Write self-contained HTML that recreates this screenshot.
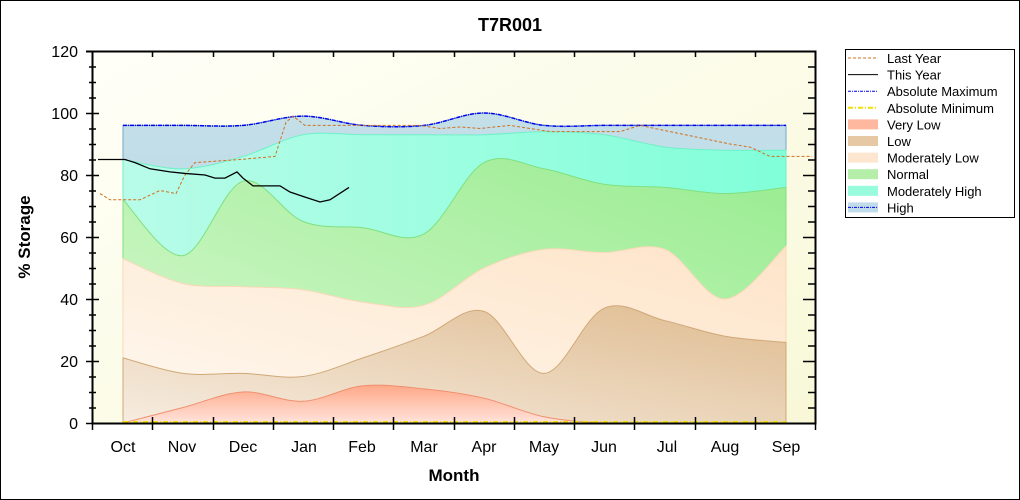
<!DOCTYPE html>
<html><head><meta charset="utf-8"><style>
body{margin:0;background:#fff}
svg{display:block;font-family:"Liberation Sans",Arial,sans-serif}
</style></head><body>
<svg id="s" width="1020" height="500" viewBox="0 0 1020 500" xmlns="http://www.w3.org/2000/svg">
<defs>
<linearGradient id="bg" x1="0" y1="0" x2="1" y2="1"><stop offset="0" stop-color="#fffff8"/><stop offset="1" stop-color="#f8f8d8"/></linearGradient>
<linearGradient id="gH" x1="0" y1="0" x2="0" y2="1"><stop offset="0" stop-color="#c4dfe8"/><stop offset="1" stop-color="#b0d8e6"/></linearGradient>
<linearGradient id="gMH" x1="0" y1="0" x2="1" y2="0"><stop offset="0" stop-color="#b8fce8"/><stop offset="1" stop-color="#80ffd8"/></linearGradient>
<linearGradient id="gN" x1="0" y1="1" x2="1" y2="0"><stop offset="0" stop-color="#d8f8d0"/><stop offset="1" stop-color="#98ec90"/></linearGradient>
<linearGradient id="gML" x1="0" y1="1" x2="1" y2="0"><stop offset="0" stop-color="#fff8f0"/><stop offset="1" stop-color="#fde4c8"/></linearGradient>
<linearGradient id="gL" x1="0" y1="1" x2="1" y2="0"><stop offset="0" stop-color="#f6ece0"/><stop offset="1" stop-color="#dfbc90"/></linearGradient>
<linearGradient id="gVL" x1="0" y1="1" x2="0" y2="0"><stop offset="0" stop-color="#ffe4dc"/><stop offset="1" stop-color="#ffa888"/></linearGradient>
</defs>
<rect x="0.5" y="0.5" width="1019" height="499" fill="#fff" stroke="#000"/>
<rect x="92" y="51" width="723" height="372" fill="url(#bg)"/>
<g id="bands"></g>
<g id="lines"></g>
<g id="axes" stroke="#000" fill="none"></g>
<text x="510" y="31" font-size="18" font-weight="bold" text-anchor="middle">T7R001</text>
<text x="454" y="481" font-size="17" font-weight="bold" text-anchor="middle">Month</text>
<text transform="translate(30,237) rotate(-90)" font-size="17" font-weight="bold" text-anchor="middle">% Storage</text>
<g font-size="16" text-anchor="end" id="ylab"></g>
<g font-size="16" text-anchor="middle" id="xlab"></g>
<g id="leg">
<rect x="845.5" y="49.5" width="169" height="168" fill="#fff" stroke="#000"/>
</g>
</svg>
<script>
const NS="http://www.w3.org/2000/svg";
function el(p,t,a){const e=document.createElementNS(NS,t);for(const k in a)e.setAttribute(k,a[k]);p.appendChild(e);return e;}
const Y=v=>423-3.1*v;
const xs=[123,183,243,303,363,424,484,544,604,665,725,786];
function smooth(pts){let d="M"+pts[0][0]+","+pts[0][1];for(let i=0;i<pts.length-1;i++){const p0=pts[i-1]||pts[i],p1=pts[i],p2=pts[i+1],p3=pts[i+2]||p2;
const c1=[p1[0]+(p2[0]-p0[0])/6,p1[1]+(p2[1]-p0[1])/6],c2=[p2[0]-(p3[0]-p1[0])/6,p2[1]-(p3[1]-p1[1])/6];
d+=`C${c1[0]},${c1[1]} ${c2[0]},${c2[1]} ${p2[0]},${p2[1]}`;}return d;}
const bands=[
["gH","#6fa8c8",[96,96,96,99,96,96,100,96,96,96,96,96]],
["gMH","#70f0c8",[85,82,86,93,93,93,93,94,93,89,88,88]],
["gN","#80e080",[72,54,78,65,63,61,84,82,77,76,74,76]],
["gML","#f8d8b8",[53,45,44,43,39,38,50,56,55,56,40,57]],
["gL","#d0a878",[21,16,16,15,21,28,36,16,37,33,28,26]],
["gVL","#f09070",[0,5,10,7,12,11,8,2,0,0,0,0]]];
const bg=document.getElementById("bands");
bands.forEach(b=>{const pts=xs.map((x,i)=>[x,Y(b[2][i])]);
el(bg,"path",{d:smooth(pts)+"L786,423L123,423Z",fill:"url(#"+b[0]+")",stroke:b[1],"stroke-width":1});});
const lg=document.getElementById("lines");
el(lg,"path",{d:smooth(xs.map((x,i)=>[x,Y(bands[0][2][i])])),fill:"none",stroke:"#0000ee","stroke-width":1.5,"stroke-dasharray":"4,1,1,1"});
el(lg,"line",{x1:123,y1:422,x2:786,y2:422,stroke:"#f0e000","stroke-width":2,"stroke-dasharray":"5,2,1,2"});
const ly=[[100,74],[110,72],[140,72],[160,75],[176,74],[185,80],[195,84],[240,85],[275,86],[286,97],[293,99],[305,96],[380,96],[420,96],[440,95],[460,95.5],[480,95],[510,96],[550,94],[620,94],[640,96],[670,94],[700,92],[730,90],[750,89],[770,86],[812,86]];
el(lg,"polyline",{points:ly.map(p=>p[0]+","+Y(p[1])).join(" "),fill:"none",stroke:"#d07020","stroke-width":1,"stroke-dasharray":"3,2"});
const ty=[[98,85],[125,85],[135,84],[150,82],[170,81],[185,80.5],[205,80],[215,79],[225,79],[237,81],[243,79],[253,76.5],[280,76.5],[290,74.5],[304,73],[320,71.3],[330,72],[349,76]];
el(lg,"polyline",{points:ty.map(p=>p[0]+","+Y(p[1])).join(" "),fill:"none",stroke:"#000","stroke-width":1.3});
const ax=document.getElementById("axes");
el(ax,"path",{d:"M86,51.5H815.5V423.5H92.5V51","stroke-width":2});
const yl=document.getElementById("ylab");
for(let v=0;v<=120;v+=5){const y=Y(v)+0.5;const big=v%20==0;
el(ax,"line",{x1:big?86:89,y1:y,x2:big?99:96,y2:y,"stroke-width":1.5});
el(ax,"line",{x1:big?803:808,y1:y,x2:815,y2:y,"stroke-width":1.5});
if(big){const t=el(yl,"text",{x:78,y:Y(v)+6});t.textContent=v;}}
const xl=document.getElementById("xlab");
for(let i=0;i<=12;i++){const x=Math.round(92+i*60.25)+0.5;
el(ax,"line",{x1:x,y1:417,x2:x,y2:430,"stroke-width":1.5});
el(ax,"line",{x1:x,y1:51,x2:x,y2:57,"stroke-width":1.5});}
["Oct","Nov","Dec","Jan","Feb","Mar","Apr","May","Jun","Jul","Aug","Sep"].forEach((m,i)=>{const t=el(xl,"text",{x:[123,182,243,304,362,424,484,544,604,667,725,786][i],y:452});t.textContent=m;});
const leg=document.getElementById("leg");
const items=[["Last Year","l","#d07020","3,2"],["This Year","l","#000",""],["Absolute Maximum","l","#0000ee","3,1,1,1"],["Absolute Minimum","l","#f0e000","5,2,1,2"],
["Very Low","b","#ffb8a0"],["Low","b","#e6c8a4"],["Moderately Low","b","#fde6d0"],["Normal","b","#b4eea8"],["Moderately High","b","#98fcdc"],["High","b","#c0dcea"]];
items.forEach((it,i)=>{const y=58+i*16.6;
if(it[1]=="l")el(leg,"line",{x1:848,y1:y,x2:878,y2:y,stroke:it[2],"stroke-width":it[0]=="Absolute Minimum"?2:1,"stroke-dasharray":it[3]});
else{el(leg,"rect",{x:848,y:y-5,width:30,height:10,fill:it[2]});if(it[0]=="High")el(leg,"line",{x1:848,y1:y,x2:878,y2:y,stroke:"#0000ee","stroke-dasharray":"3,1,1,1"});}
const t=el(leg,"text",{x:887,y:y+5,"font-size":13});t.textContent=it[0];});
</script>
</body></html>
